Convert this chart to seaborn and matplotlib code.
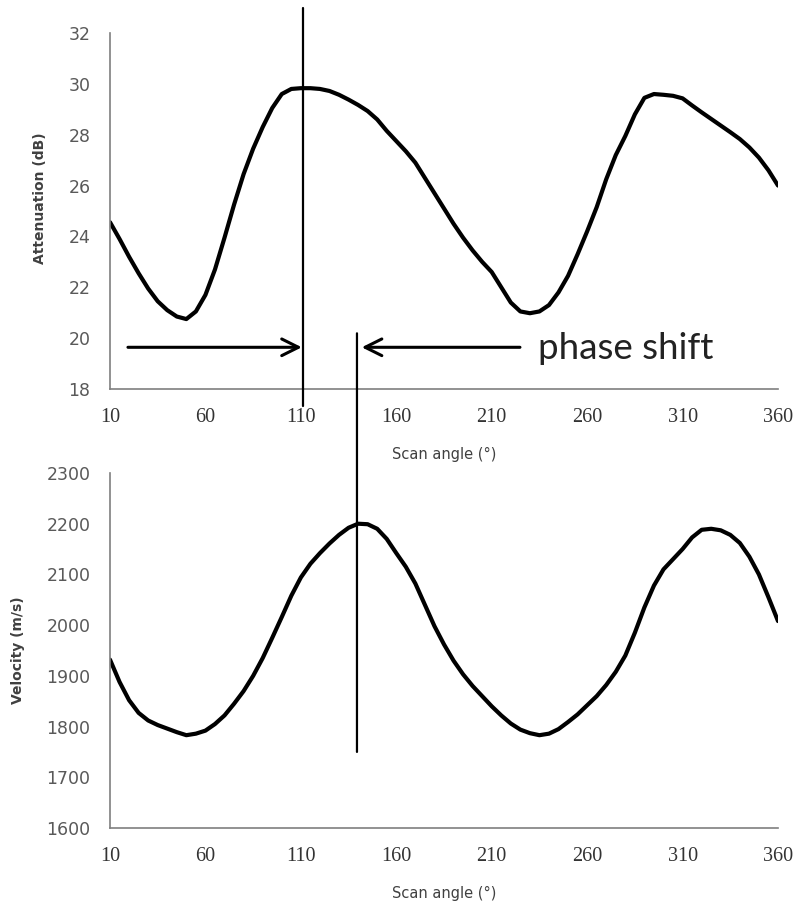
import numpy as np
import pandas as pd
import matplotlib
matplotlib.use("Agg")
import matplotlib.pyplot as plt
import seaborn as sns
from matplotlib.patches import ConnectionPatch

# ---------------- data ----------------
angles = list(range(10, 361, 5))

attenuation = [24.56, 23.9, 23.2, 22.55, 21.95, 21.45, 21.1, 20.85, 20.75, 21.05,
               21.7, 22.7, 23.95, 25.25, 26.45, 27.45, 28.3, 29.05, 29.6, 29.8,
               29.83, 29.83, 29.8, 29.72, 29.57, 29.38, 29.17, 28.93, 28.6, 28.15,
               27.75, 27.35, 26.9, 26.3, 25.7, 25.1, 24.5, 23.95, 23.45, 23.0,
               22.6, 22.0, 21.4, 21.05, 20.98, 21.05, 21.3, 21.8, 22.45, 23.3,
               24.2, 25.15, 26.25, 27.2, 27.95, 28.8, 29.45, 29.6, 29.57, 29.53,
               29.43, 29.15, 28.88, 28.62, 28.36, 28.1, 27.83, 27.5, 27.1, 26.6,
               26.0]

velocity = [1932, 1888, 1852, 1827, 1812, 1803, 1796, 1789, 1783, 1786,
            1792, 1805, 1822, 1845, 1870, 1900, 1935, 1975, 2016, 2058,
            2094, 2121, 2142, 2161, 2178, 2192, 2200, 2199, 2190, 2170,
            2142, 2115, 2082, 2040, 1998, 1962, 1930, 1903, 1880, 1860,
            1840, 1822, 1806, 1794, 1787, 1783, 1786, 1795, 1809, 1824,
            1842, 1860, 1882, 1908, 1940, 1985, 2035, 2078, 2110, 2130,
            2150, 2173, 2188, 2190, 2187, 2178, 2162, 2135, 2100, 2055,
            2008]

x_ticks = [10, 60, 110, 160, 210, 260, 310, 360]
att_ticks = [18, 20, 22, 24, 26, 28, 30, 32]
vel_ticks = [1600, 1700, 1800, 1900, 2000, 2100, 2200, 2300]

x_label = "Scan angle (°)"
att_label = "Attenuation (dB)"
vel_label = "Velocity (m/s)"
annotation = "phase shift"

# annotation geometry (data coordinates)
peak_att_angle = 111
peak_vel_angle = 139.4

df_att = pd.DataFrame({"angle": angles, "value": attenuation})
df_vel = pd.DataFrame({"angle": angles, "value": velocity})

# ---------------- style ----------------
sns.set_style("white")
plt.rcParams['font.family'] = ['DejaVu Sans']

W, H = 801, 905
fig = plt.figure(figsize=(W / 100, H / 100), dpi=100)
ax1 = fig.add_axes([110 / W, 1 - 389 / H, 668 / W, 356 / H])
ax2 = fig.add_axes([110 / W, 1 - 828 / H, 668 / W, 355 / H])

spine_col = "#7f7f7f"
tick_col = "#595959"

for ax, df, yt, ylab, lcoords in [
        (ax1, df_att, att_ticks, att_label, (-0.094, 0.536)),
        (ax2, df_vel, vel_ticks, vel_label, (-0.127, 0.50))]:
    sns.lineplot(data=df, x="angle", y="value", ax=ax, color="black",
                 linewidth=3.0, solid_capstyle="round", solid_joinstyle="round")
    ax.set_xlim(10, 360)
    ax.set_ylim(yt[0], yt[-1])
    ax.set_xticks(x_ticks)
    ax.set_yticks(yt)
    ax.set_xticklabels([str(v) for v in x_ticks], family="Liberation Serif",
                       fontsize=14.5, color="#333333")
    ax.set_yticklabels([str(v) for v in yt], fontsize=12.5, color=tick_col)
    ax.tick_params(axis="both", length=0)
    ax.tick_params(axis="x", pad=14)
    ax.tick_params(axis="y", pad=14)
    for s in ["top", "right"]:
        ax.spines[s].set_visible(False)
    for s in ["left", "bottom"]:
        ax.spines[s].set_color(spine_col)
        ax.spines[s].set_linewidth(1.2)
    ax.set_ylabel(ylab, fontsize=10, fontweight="bold", color="#404040")
    ax.yaxis.set_label_coords(*lcoords)
    ax.set_xlabel(x_label, fontsize=10.5, color="#404040")
    ax.xaxis.set_label_coords(0.5, -0.185)
    ax.xaxis.label.set_va("center")
    ax.set_facecolor("none")

# vertical line at attenuation peak (extends beyond the axes)
ax1.plot([peak_att_angle, peak_att_angle], [17.33, 32.98], color="black",
         linewidth=1.6, clip_on=False, zorder=5)

# vertical line at velocity peak, spanning both panels
con = ConnectionPatch(xyA=(peak_vel_angle, 20.19), coordsA=ax1.transData,
                      xyB=(peak_vel_angle, 1750), coordsB=ax2.transData,
                      color="black", linewidth=1.6, zorder=5)
fig.add_artist(con)

# arrows
arrow_y = 19.64
ax1.annotate("", xy=(peak_att_angle - 0.5, arrow_y), xytext=(19.4, arrow_y),
             arrowprops=dict(arrowstyle="->", lw=2.2, color="black",
                             mutation_scale=30, shrinkA=0, shrinkB=0))
ax1.annotate("", xy=(peak_vel_angle + 2.5, arrow_y), xytext=(224.8, arrow_y),
             arrowprops=dict(arrowstyle="->", lw=2.2, color="black",
                             mutation_scale=30, shrinkA=0, shrinkB=0))
ax1.text(234, arrow_y - 0.05, annotation, fontsize=26.5, family="Lato",
         color="#222222", va="center", ha="left")

fig.savefig("out.png", dpi=100)
